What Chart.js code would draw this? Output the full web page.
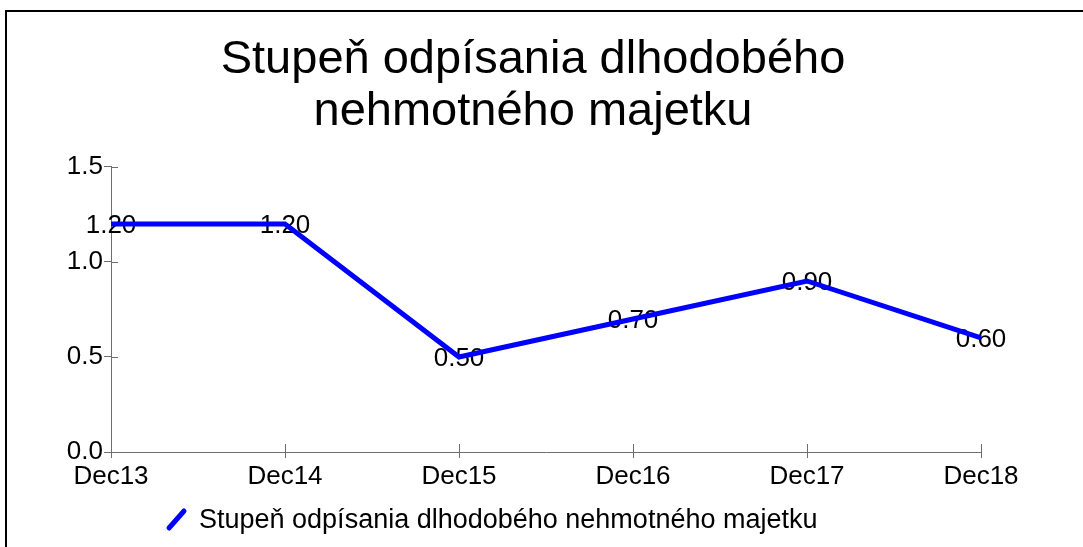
<!DOCTYPE html>
<html>
<head>
<meta charset="utf-8">
<script src="https://cdn.jsdelivr.net/npm/chart.js@4/dist/chart.umd.min.js"></script>
<style>
  html, body { margin: 0; padding: 0; background: #fff; }
  canvas { display: block; }
</style>
</head>
<body>
<canvas id="chart" width="1083" height="547"></canvas>
<script>
const categories = ["Dec13", "Dec14", "Dec15", "Dec16", "Dec17", "Dec18"];
const seriesValues = [1.2, 1.2, 0.5, 0.7, 0.9, 0.6];
const seriesName = "Stupeň odpísania dlhodobého nehmotného majetku";
const titleLines = ["Stupeň odpísania dlhodobého", "nehmotného majetku"];
const yTicks = [0, 0.5, 1.0, 1.5];

const FONT = "'Liberation Sans', Arial, sans-serif";
const AXIS_COLOR = "#6e6e6e";
const LINE_COLOR = "#0000ff";

// tick marks that cross the axis line (the library only draws the outer half)
const innerTicks = {
  id: "innerTicks",
  afterDraw(chart) {
    const { ctx, chartArea, scales } = chart;
    ctx.save();
    ctx.strokeStyle = AXIS_COLOR;
    ctx.lineWidth = 1;
    ctx.beginPath();
    scales.y.ticks.forEach((t, i) => {
      const y = Math.round(scales.y.getPixelForTick(i)) + 0.5;
      ctx.moveTo(chartArea.left, y);
      ctx.lineTo(chartArea.left + 7, y);
    });
    scales.x.ticks.forEach((t, i) => {
      const x = Math.round(scales.x.getPixelForTick(i)) + 0.5;
      ctx.moveTo(x, chartArea.bottom);
      ctx.lineTo(x, chartArea.bottom - 8);
    });
    ctx.stroke();
    ctx.restore();
  }
};

// value labels centred on the points, drawn under the line
const valueLabels = {
  id: "valueLabels",
  beforeDatasetsDraw(chart) {
    const { ctx } = chart;
    const meta = chart.getDatasetMeta(0);
    ctx.save();
    ctx.font = "26px " + FONT;
    ctx.fillStyle = "#000";
    ctx.textAlign = "center";
    ctx.textBaseline = "alphabetic";
    meta.data.forEach((pt, i) => {
      ctx.fillText(seriesValues[i].toFixed(2), pt.x, pt.y + 9);
    });
    ctx.restore();
  }
};

// legend with a slanted line sample, plus the outer frame
const legendAndFrame = {
  id: "legendAndFrame",
  afterDraw(chart) {
    const { ctx } = chart;
    ctx.save();
    ctx.strokeStyle = LINE_COLOR;
    ctx.lineWidth = 5;
    ctx.lineCap = "round";
    ctx.beginPath();
    ctx.moveTo(169, 528);
    ctx.lineTo(184, 511);
    ctx.stroke();
    ctx.font = "27px " + FONT;
    ctx.fillStyle = "#000";
    ctx.textAlign = "left";
    ctx.textBaseline = "alphabetic";
    ctx.fillText(chart.data.datasets[0].label, 199, 528);

    ctx.strokeStyle = "#000";
    ctx.lineWidth = 2;
    ctx.lineCap = "butt";
    ctx.beginPath();
    ctx.moveTo(6, chart.height);
    ctx.lineTo(6, 11);
    ctx.lineTo(chart.width, 11);
    ctx.stroke();
    ctx.restore();
  }
};

new Chart(document.getElementById("chart"), {
  type: "line",
  data: {
    labels: categories,
    datasets: [{
      label: seriesName,
      data: seriesValues,
      borderColor: LINE_COLOR,
      borderWidth: 5,
      pointRadius: 0,
      tension: 0,
      fill: false
    }]
  },
  options: {
    responsive: false,
    animation: false,
    layout: { padding: { left: 0, right: 17, top: 0, bottom: 55 } },
    plugins: {
      legend: { display: false },
      tooltip: { enabled: false },
      title: {
        display: true,
        text: titleLines,
        color: "#000",
        font: { family: FONT, size: 47, weight: "normal", lineHeight: 1.106 },
        padding: { top: 34, bottom: 29 }
      }
    },
    scales: {
      x: {
        offset: false,
        grid: { drawOnChartArea: false, color: AXIS_COLOR, tickLength: 6 },
        border: { color: AXIS_COLOR },
        ticks: { color: "#000", font: { family: FONT, size: 26 }, padding: 3, maxRotation: 0 },
        afterFit(scale) { scale.height = 40; scale.paddingRight = 102; }
      },
      y: {
        min: 0,
        max: 1.5,
        afterBuildTicks(scale) { scale.ticks = yTicks.map(v => ({ value: v })); },
        grid: { drawOnChartArea: false, color: AXIS_COLOR, tickLength: 7 },
        border: { color: AXIS_COLOR },
        ticks: {
          color: "#000",
          font: { family: FONT, size: 26 },
          padding: 1,
          callback: v => Number(v).toFixed(1)
        },
        afterFit(scale) { scale.width = 111; }
      }
    }
  },
  plugins: [innerTicks, valueLabels, legendAndFrame]
});
</script>
</body>
</html>
